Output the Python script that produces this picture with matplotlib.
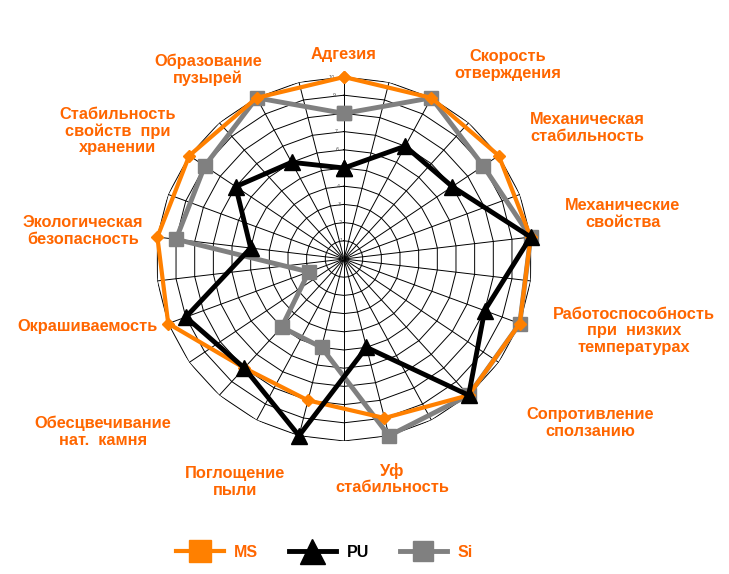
import numpy as np
import matplotlib.pyplot as plt
from matplotlib.lines import Line2D

# categories, clockwise from the top
categories = ["Адгезия", "Скорость\nотверждения", "Механическая\nстабильность",
              "Механические\nсвойства", "Работоспособность\nпри  низких\nтемпературах",
              "Сопротивление\nсползанию", "Уф\nстабильность", "Поглощение\nпыли",
              "Обесцвечивание\nнат.  камня", "Окрашиваемость", "Экологическая\nбезопасность",
              "Стабильность\nсвойств  при\nхранении", "Образование\nпузырей"]
ms_values = [10, 10, 10, 10, 10, 10, 9, 8, 8, 10, 10, 10, 10]
pu_values = [5, 7, 7, 10, 8, 10, 5, 10, 8, 9, 5, 7, 6]
si_values = [8, 10, 9, 10, 10, 10, 10, 5, 5, 2, 9, 9, 10]
r_ticks = list(range(0, 11))
series_names = ["MS", "PU", "Si"]

# label centres in figure pixels (layout only)
label_pos = [(344, 55), (508, 65), (587, 128), (623, 214), (634, 331), (590, 423),
             (392, 479), (235, 482), (103, 432), (88, 327), (83, 231), (118, 131), (208, 70)]

orange = "#FF8000"
text_orange = "#FF6600"
grey = "#808080"

W, H = 729, 574
fig = plt.figure(figsize=(W / 100, H / 100), dpi=100)
cx, cy, rx, ry = 344, 259, 188, 182
ax = fig.add_axes([(cx - rx) / W, (H - cy - ry) / H, 2 * rx / W, 2 * ry / H], projection="polar")
ax.set_aspect("auto")
ax.set_theta_zero_location("N")
ax.set_theta_direction(-1)
ax.set_ylim(0, 10)
ax.grid(False)
ax.spines["polar"].set_visible(False)
ax.set_xticks([])
ax.set_yticks([])
ax.patch.set_alpha(0)

n = len(categories)
angles = np.arange(n) * 2 * np.pi / n

# grid: 26 spokes and 10 rings
grid_angles = np.arange(2 * n + 1) * np.pi / n
for a in grid_angles[:-1]:
    ax.plot([a, a], [0, 10], color="black", lw=0.7, zorder=1)
for r in r_ticks[1:]:
    ax.plot(grid_angles, [r] * len(grid_angles), color="black", lw=0.7, zorder=1)
for r in r_ticks:
    ax.text(-0.05, r, str(r), fontsize=3.5, color="#555555", ha="right", va="center", zorder=2)

def closed(v):
    return np.append(angles, angles[0]), np.append(v, v[0])

t, v = closed(si_values)
ax.plot(t, v, color=grey, lw=3.5, marker="s", ms=10, zorder=3, clip_on=False)
t, v = closed(ms_values)
ax.plot(t, v, color=orange, lw=3, marker="D", ms=6, zorder=4, clip_on=False)
t, v = closed(pu_values)
ax.plot(t, v, color="black", lw=3.5, marker="^", ms=11, zorder=5, clip_on=False)

for name, (px, py) in zip(categories, label_pos):
    fig.text(px / W, 1 - py / H, name, color=text_orange, fontsize=11.8, fontweight="bold",
             family="Liberation Sans", ha="center", va="center", linespacing=1.12)

handles = [Line2D([], [], color=orange, lw=3, marker="s", ms=16),
           Line2D([], [], color="black", lw=3.5, marker="^", ms=18),
           Line2D([], [], color=grey, lw=3.5, marker="s", ms=15)]
leg = fig.legend(handles, series_names, loc="center", bbox_to_anchor=(0.445, 0.038), ncol=3,
                 frameon=False, handlelength=3.0, columnspacing=1.9, handletextpad=0.65,
                 prop={"family": "Liberation Sans", "weight": "bold", "size": 11.5})
for txt, c in zip(leg.get_texts(), [text_orange, "black", text_orange]):
    txt.set_color(c)

fig.savefig("out.png", dpi=100)
